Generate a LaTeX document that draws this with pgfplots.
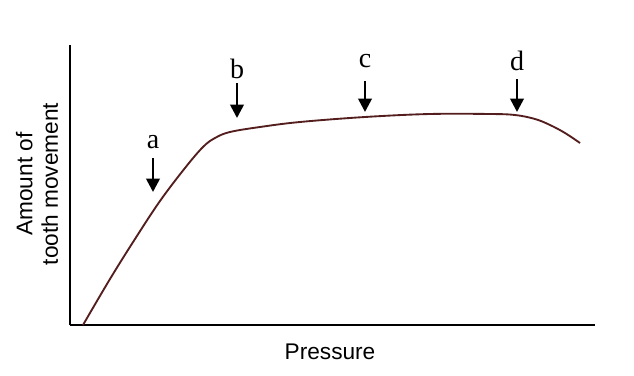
\documentclass[border=0pt]{standalone}
\usepackage{pgfplots}
\pgfplotsset{compat=1.18}
\usetikzlibrary{arrows.meta}
\usepackage{fontspec}
\setmainfont{Liberation Serif}
\newfontfamily\arial{Liberation Sans}
\definecolor{curve}{RGB}{85,30,30}
\definecolor{baseline}{RGB}{50,60,55}
\begin{document}
\begin{tikzpicture}
\begin{axis}[
  x=0.75pt, y=0.75pt,
  xmin=70, xmax=595, ymin=0, ymax=280,
  hide axis, clip=false,
]
\path (axis cs:0,-50) rectangle (axis cs:634,325);
% axes
\draw[line width=1.8pt, black] (axis cs:70,280) -- (axis cs:70,0);
\draw[line width=1.8pt, baseline] (axis cs:70,0) -- (axis cs:595,0);
% curve
\addplot[curve, line width=1.4pt, smooth, tension=0.6] coordinates {
(83,0) (110,46) (135,86) (160,124) (185,157) (203,178) (215,187) (230,193)
(260,198) (300,203) (365,208) (430,211) (490,211) (515,210) (535,206)
(550,200) (565,192) (580,182)
};
% arrows
\tikzset{dn/.style={line width=2pt, -{Triangle[width=10pt,length=10pt]}}}
\draw[dn] (axis cs:153,167) -- (axis cs:153,133);
\draw[dn] (axis cs:237,242) -- (axis cs:237,207);
\draw[dn] (axis cs:365,244) -- (axis cs:365,213);
\draw[dn] (axis cs:517,246) -- (axis cs:517,213);
\node[font=\fontsize{21}{24}\selectfont] at (axis cs:153,183) {a};
\node[font=\fontsize{21}{24}\selectfont] at (axis cs:237,256) {b};
\node[font=\fontsize{21}{24}\selectfont] at (axis cs:365,264) {c};
\node[font=\fontsize{21}{24}\selectfont] at (axis cs:517,264) {d};
% labels
\node[font=\arial\fontsize{17}{19}\selectfont] at (axis cs:330,-27) {Pressure};
\node[font=\arial\fontsize{17}{19}\selectfont, rotate=90, align=center] at (axis cs:37,141) {Amount of\\tooth movement};
\end{axis}
\end{tikzpicture}
\end{document}
